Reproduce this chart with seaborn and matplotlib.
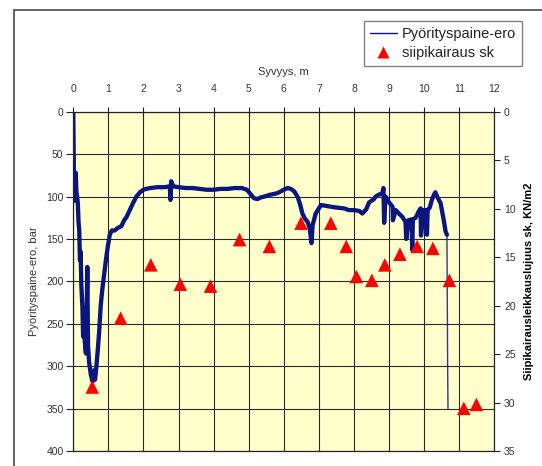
import matplotlib
matplotlib.use("Agg")
import matplotlib.pyplot as plt
from matplotlib.lines import Line2D
from matplotlib.patches import Rectangle
import numpy as np
import pandas as pd
import seaborn as sns

# Rotation pressure difference along the drilling depth
depth_m = [
    0.00, 0.01, 0.02, 0.04, 0.07, 0.09, 0.11, 0.13, 0.15, 0.17, 0.19, 0.21,
    0.23, 0.26, 0.28, 0.30, 0.33, 0.36, 0.38, 0.40, 0.42, 0.45, 0.50, 0.55,
    0.58, 0.62, 0.66, 0.70, 0.74, 0.78, 0.82, 0.87, 0.93, 0.98, 1.04, 1.10,
    1.18, 1.27, 1.37, 1.45, 1.52, 1.61, 1.70, 1.80, 1.90, 2.00, 2.07, 2.20,
    2.40, 2.60, 2.75, 2.77, 2.79, 2.85, 3.00, 3.20, 3.40, 3.60, 3.80, 4.00,
    4.20, 4.40, 4.60, 4.80, 4.95, 5.05, 5.15, 5.25, 5.35, 5.45, 5.60, 5.82,
    6.00, 6.11, 6.20, 6.30, 6.40, 6.47, 6.53, 6.60, 6.68, 6.74, 6.79, 6.82,
    6.91, 7.06, 7.20, 7.34, 7.50, 7.72, 7.85, 8.00, 8.15, 8.24, 8.35, 8.43,
    8.57, 8.62, 8.70, 8.81, 8.84, 8.86, 8.90, 9.00, 9.10, 9.11, 9.19, 9.28,
    9.38, 9.47, 9.49, 9.55, 9.64, 9.66, 9.68, 9.76, 9.84, 9.90, 9.91, 9.99,
    10.06, 10.08, 10.10, 10.16, 10.22, 10.28, 10.32, 10.37, 10.47, 10.56,
    10.61, 10.65, 10.66, 10.67, 10.68,
]
pressure_bar = [
    0, 40, 85, 105, 72, 95, 100, 108, 130, 140, 175, 165,
    205, 230, 265, 250, 272, 285, 240, 183, 275, 295, 310, 318,
    305, 316, 300, 280, 258, 230, 212, 195, 175, 160, 145, 140,
    140, 137, 135, 128, 124, 116, 108, 100, 95, 92, 91, 90,
    89, 89, 88, 104, 82, 88, 89, 90, 90, 91, 92, 92,
    91, 91, 90, 90, 92, 97, 102, 103, 101, 100, 98, 96,
    92, 90, 91, 94, 101, 110, 120, 126, 130, 138, 155, 134,
    120, 110, 111, 112, 113, 114, 116, 116, 117, 120, 115, 107,
    103, 100, 98, 96, 90, 131, 100, 107, 112, 128, 116, 120,
    124, 130, 150, 128, 127, 163, 127, 125, 118, 114, 146, 116,
    116, 145, 116, 113, 104, 98, 95, 100, 108, 128,
    141, 145, 220, 300, 350,
]

# Vane shear strength measurements
vane_depth_m = [0.54, 1.35, 2.21, 3.05, 3.91, 4.74, 5.59, 6.49, 7.34, 7.78,
                8.07, 8.51, 8.88, 9.31, 9.80, 10.25, 10.72, 11.13, 11.49]
vane_sk = [28.4, 21.3, 15.8, 17.8, 18.0, 13.2, 13.9, 11.5, 11.5, 13.9,
           17.0, 17.4, 15.8, 14.7, 13.9, 14.1, 17.4, 30.6, 30.2]

depth_ticks = list(range(0, 13))
pressure_ticks = list(range(0, 401, 50))
sk_ticks = list(range(0, 36, 5))

NAVY = "#0a1580"
RED = "#ff0000"
TEXT = "#333333"

sns.set_style("ticks")
plt.rcParams["font.family"] = ["Liberation Sans", "DejaVu Sans"]

fig = plt.figure(figsize=(5.42, 4.66), dpi=100)
fig.patch.set_facecolor("white")
ax = fig.add_axes([0.1352, 0.0322, 0.7768, 0.7281])
ax.set_facecolor("#FFFFCC")
ax2 = ax.twinx()

press = pd.DataFrame({"depth": depth_m, "pressure": pressure_bar})
tail_idx = press.index[press["depth"] >= 10.65][0]
body = press.iloc[: tail_idx + 1]
tail = press.iloc[tail_idx:]

sns.lineplot(data=body, x="depth", y="pressure", ax=ax, sort=False,
             estimator=None, color=NAVY, lw=3.1, solid_joinstyle="round",
             solid_capstyle="round", zorder=3)
sns.lineplot(data=tail, x="depth", y="pressure", ax=ax, sort=False,
             estimator=None, color=NAVY, lw=1.0, alpha=0.85, zorder=3)

vane = pd.DataFrame({"depth": vane_depth_m, "sk": vane_sk})
sns.scatterplot(data=vane, x="depth", y="sk", ax=ax2, marker="^", s=95,
                color=RED, edgecolor="none", linewidth=0, zorder=4)

ax.set_xlim(0, 12)
ax.set_ylim(400, 0)
ax2.set_ylim(35, 0)
ax.set_xticks(depth_ticks)
ax.set_yticks(pressure_ticks)
ax2.set_yticks(sk_ticks)

ax.set_axisbelow(True)
ax.grid(True, color="#2a2a2a", lw=0.8)
ax2.grid(False)

ax.xaxis.tick_top()
ax.xaxis.set_label_position("top")
ax.tick_params(axis="x", direction="inout", length=7, width=0.8, pad=9,
               labelsize=7.5, labelcolor=TEXT, color="#222222")
ax.tick_params(axis="y", direction="out", length=5, width=0.8, pad=2,
               labelsize=7.5, labelcolor=TEXT, color="#222222")
ax2.tick_params(axis="y", direction="out", length=4, width=0.8, pad=3,
                labelsize=7.5, labelcolor=TEXT, color="#222222")

ax.set_xlabel("Syvyys, m", fontsize=8, color=TEXT, labelpad=7)
ax.set_ylabel("Pyörityspaine-ero, bar", fontsize=8, color=TEXT, labelpad=5)
ax2.set_ylabel("Siipikairausleikkauslujuus sk, KN/m2", fontsize=8,
               fontweight="bold", color="black", labelpad=6)

for a in (ax, ax2):
    for sp in a.spines.values():
        sp.set_color("#222222")
        sp.set_linewidth(0.8)

# Chart-area frame
fig.patches.append(Rectangle((13.5 / 542, -0.5), 2.0, 0.5 + 1 - 9.5 / 466,
                             transform=fig.transFigure, fill=False,
                             ec="#555555", lw=1.3, zorder=0))

handles = [
    Line2D([], [], color=NAVY, lw=1.0),
    Line2D([], [], color=RED, marker="^", ls="none", ms=8, mec="none"),
]
leg = fig.legend(handles, ["Pyörityspaine-ero", "siipikairaus sk"],
                 loc="upper right", bbox_to_anchor=(521.7 / 542, 1 - 21 / 466),
                 bbox_transform=fig.transFigure, frameon=True, fancybox=False,
                 edgecolor="#808080", framealpha=1, fontsize=10.5,
                 handlelength=1.9, handletextpad=0.3, borderpad=0.4,
                 labelspacing=0.35, borderaxespad=0)
leg.get_frame().set_linewidth(1.0)
for t in leg.get_texts():
    t.set_color("#222222")

fig.savefig("out.png", dpi=100)
